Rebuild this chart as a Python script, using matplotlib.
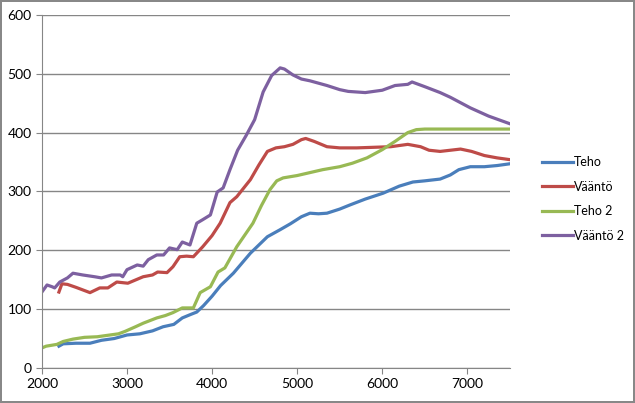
import matplotlib
matplotlib.use('Agg')
import matplotlib.pyplot as plt

# luetut arvot
teho_x = [2200, 2250, 2400, 2565, 2700, 2850, 3000, 3150, 3300, 3424, 3550, 3650, 3750, 3820, 3900, 4000,
          4100, 4250, 4450, 4650, 4800, 4920, 5050, 5150, 5250, 5350, 5500, 5620, 5800, 6010, 6200, 6360,
          6500, 6680, 6800, 6900, 7035, 7200, 7350, 7500]
teho_y = [37, 41, 42, 42, 47, 50, 56, 58, 63, 70, 74, 85, 91, 95, 106, 122,
          140, 161, 195, 223, 235, 245, 257, 263, 262, 263, 270, 277, 287, 297, 309, 316,
          318, 321, 328, 337, 342, 342, 344, 347]

vaanto_x = [2200, 2235, 2300, 2400, 2565, 2680, 2775, 2880, 3010, 3190, 3300, 3360, 3470, 3540, 3620, 3700,
            3780, 3890, 4000, 4095, 4210, 4290, 4450, 4550, 4650, 4750, 4850, 4950, 5050, 5100, 5200, 5350,
            5500, 5700, 5900, 6100, 6300, 6450, 6550, 6680, 6800, 6920, 7050, 7200, 7350, 7500]
vaanto_y = [129, 143, 142, 137, 128, 136, 136, 146, 144, 155, 158, 163, 162, 172, 189, 190,
            189, 206, 225, 246, 281, 291, 320, 345, 368, 374, 376, 380, 388, 390, 385, 376,
            374, 374, 375, 376, 380, 376, 370, 368, 370, 372, 368, 361, 357, 354]

teho2_x = [2000, 2050, 2175, 2250, 2365, 2500, 2650, 2800, 2900, 2975, 3100, 3190, 3350, 3450, 3540, 3650,
           3780, 3860, 3980, 4070, 4150, 4290, 4480, 4580, 4680, 4760, 4835, 5000, 5120, 5300, 5500, 5650,
           5820, 6000, 6150, 6300, 6400, 6500, 6700, 7000, 7250, 7500]
teho2_y = [34, 37, 40, 45, 49, 52, 53, 56, 58, 62, 70, 76, 85, 89, 94, 102,
           102, 128, 138, 163, 170, 206, 246, 276, 303, 318, 323, 327, 331, 337, 342, 348,
           357, 371, 385, 400, 405, 406, 406, 406, 406, 406]

vaanto2_x = [2000, 2060, 2120, 2150, 2210, 2300, 2365, 2480, 2620, 2700, 2820, 2920, 2950, 3000, 3120, 3190,
             3250, 3350, 3430, 3500, 3590, 3650, 3740, 3820, 3890, 3980, 4060, 4130, 4210, 4300, 4400, 4500,
             4600, 4700, 4800, 4850, 4950, 5050, 5150, 5350, 5500, 5600, 5800, 6000, 6150, 6300, 6350, 6500,
             6680, 6800, 7035, 7250, 7500]
vaanto2_y = [129, 141, 138, 136, 146, 153, 161, 158, 155, 153, 158, 158, 155, 167, 175, 173,
             184, 192, 192, 204, 201, 214, 209, 246, 252, 260, 299, 306, 337, 370, 395, 422,
             469, 497, 510, 508, 498, 491, 488, 480, 473, 470, 468, 472, 480, 482, 486, 478,
             468, 460, 442, 428, 415]

nimet = ['Teho', 'Vääntö', 'Teho 2', 'Vääntö 2']
varit = ['#4A7EBB', '#BE4B48', '#98B954', '#7D60A0']

plt.rcParams['font.family'] = ['Lato', 'DejaVu Sans']

fig = plt.figure(figsize=(6.35, 4.03), dpi=100)
fig.patch.set_edgecolor('#888888')
fig.patch.set_linewidth(1.5)
ax = fig.add_axes([0.066, 0.087, 0.737, 0.876])

sarjat = [(teho_x, teho_y), (vaanto_x, vaanto_y), (teho2_x, teho2_y), (vaanto2_x, vaanto2_y)]
for (xs, ys), nimi, vari in zip(sarjat, nimet, varit):
    ax.plot(xs, ys, color=vari, lw=2.3, label=nimi, solid_joinstyle='round')

ax.set_xlim(2000, 7500)
ax.set_ylim(0, 600)
ax.set_xticks([2000, 3000, 4000, 5000, 6000, 7000])
ax.set_yticks(range(0, 601, 100))
ax.yaxis.grid(True, color='#868686', lw=1)
ax.set_axisbelow(True)
for s in ['top', 'right']:
    ax.spines[s].set_visible(False)
for s in ['left', 'bottom']:
    ax.spines[s].set_color('#868686')
ax.tick_params(colors='#868686', labelcolor='black', labelsize=10, length=4)

ax.legend(loc='center left', bbox_to_anchor=(0.853, 0.506), bbox_transform=fig.transFigure,
          frameon=False, fontsize=9, borderpad=0, borderaxespad=0, handlelength=2.5,
          handletextpad=0.05, labelspacing=1.0)

fig.savefig('out.png', dpi=100)
